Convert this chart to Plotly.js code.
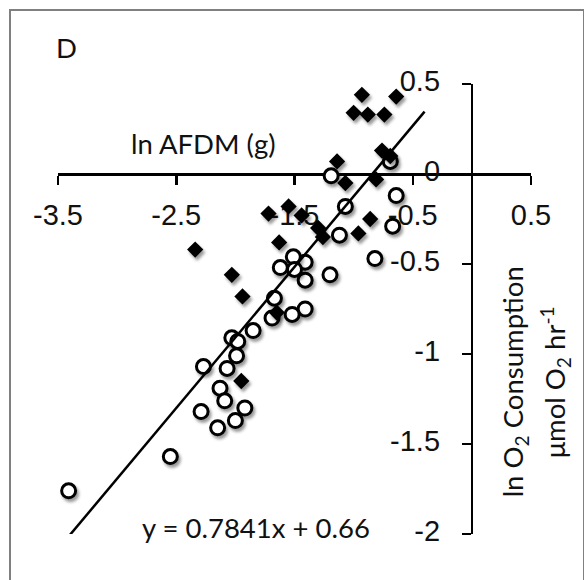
<!DOCTYPE html>
<html><head><meta charset="utf-8">
<script src="https://cdn.plot.ly/plotly-3.0.1.min.js"></script>
<style>
html,body{margin:0;padding:0;background:#fff;overflow:hidden;}
#frame{position:absolute;left:9px;top:9px;width:572px;height:620px;border:2px solid #808080;}
#chart{position:absolute;left:0;top:0;width:584px;height:580px;}
</style></head><body>
<div id="frame"></div>
<div id="chart"></div>
<script>
// Open circles
const circleX = [-0.69, -1.19, -0.64, -1.07, -0.67, -1.12, -0.82, -1.20, -1.41, -1.41, -1.41, -1.51, -1.62, -1.50, -1.67, -1.69, -1.52, -1.85, -2.03, -1.98, -2.27, -2.07, -1.99, -2.13, -2.09, -1.92, -2.29, -2.00, -2.15, -3.41, -2.55];
const circleY = [0.07, -0.01, -0.12, -0.18, -0.29, -0.34, -0.47, -0.56, -0.49, -0.59, -0.75, -0.46, -0.52, -0.53, -0.69, -0.80, -0.78, -0.87, -0.91, -0.93, -1.07, -1.08, -1.01, -1.19, -1.26, -1.30, -1.32, -1.37, -1.41, -1.76, -1.57];
// Filled diamonds
const diamondX = [-0.93, -0.64, -1.00, -0.88, -0.74, -0.76, -0.69, -1.14, -1.07, -0.81, -0.86, -0.96, -1.30, -1.26, -1.72, -1.55, -1.44, -1.63, -2.34, -2.03, -1.94, -1.95, -1.65];
const diamondY = [0.44, 0.43, 0.34, 0.33, 0.33, 0.13, 0.10, 0.07, -0.05, -0.03, -0.25, -0.33, -0.30, -0.35, -0.22, -0.18, -0.23, -0.38, -0.42, -0.56, -0.68, -1.15, -0.77];
// Trendline (equation shown on the chart) and its forward extension
const slope = 0.7841;
const intercept = 0.66;
const trendForward = 0.24;
// Ticks
const xTickVals = [-3.5, -2.5, -1.5, -0.5, 0.5];
const xTickText = ["-3.5", "-2.5", "-1.5", "-0.5", "0.5"];
const yTickVals = [0.5, 0, -0.5, -1, -1.5, -2];
const yTickText = ["0.5", "0", "-0.5", "-1", "-1.5", "-2"];

const allX = circleX.concat(diamondX);
const xMin = Math.min(...allX), xMax = Math.max(...allX) + trendForward;
const lineX = [xMin, xMax];
const lineY = lineX.map(v => slope * v + intercept);

const traces = [
  {x: circleX, y: circleY, type: 'scatter', mode: 'markers', cliponaxis: false,
   marker: {symbol: 'circle', size: 14, color: '#ffffff', line: {color: '#000000', width: 3}}},
  {x: diamondX, y: diamondY, type: 'scatter', mode: 'markers', cliponaxis: false,
   marker: {symbol: 'diamond', size: 12.5, color: '#000000', line: {width: 0}}},
  {x: lineX, y: lineY, type: 'scatter', mode: 'lines', cliponaxis: true,
   line: {color: '#000000', width: 2.5}}
];

const calib = {family: 'Lato, "Open Sans", sans-serif', size: 27.5, color: '#111'};
const tickFont = {family: '"Liberation Sans", Arial, sans-serif', size: 29, color: '#111'};

const layout = {
  width: 584, height: 580,
  margin: {l: 58, r: 53, t: 84, b: 46, pad: 0},
  paper_bgcolor: 'rgba(0,0,0,0)', plot_bgcolor: 'rgba(0,0,0,0)',
  showlegend: false,
  xaxis: {range: [-3.5, 0.5], anchor: 'free', position: 0.8, side: 'bottom',
    showgrid: false, zeroline: false, showline: true, linecolor: '#000', linewidth: 2.5,
    ticks: 'outside', ticklen: 9, tickwidth: 2.5, tickcolor: '#000',
    tickvals: xTickVals, ticktext: xTickText, tickfont: tickFont,
    ticklabelstandoff: 6, layer: 'below traces', fixedrange: true},
  yaxis: {range: [-2, 0.5], anchor: 'free', position: 0.875, side: 'left',
    showgrid: false, zeroline: false, showline: true, linecolor: '#000', linewidth: 2.5,
    ticks: 'outside', ticklen: 9, tickwidth: 2.5, tickcolor: '#000',
    tickvals: yTickVals, ticktext: yTickText, tickfont: tickFont,
    ticklabelstandoff: 16, ticklabelshift: -3, layer: 'below traces', fixedrange: true},
  annotations: [
    {text: 'D', xref: 'paper', yref: 'paper', x: 0.017, y: 1.081, showarrow: false,
     xanchor: 'center', yanchor: 'middle', font: calib},
    {text: 'ln AFDM (g)', xref: 'paper', yref: 'paper', x: 0.3066, y: 0.868, showarrow: false,
     xanchor: 'center', yanchor: 'middle', font: calib},
    {text: 'y = 0.7841x + 0.66', xref: 'paper', yref: 'paper', x: 0.4186, y: 0.0144, showarrow: false,
     xanchor: 'center', yanchor: 'middle', font: calib},
    {text: 'ln O<sub>2</sub> Consumption', xref: 'paper', yref: 'paper', x: 0.966, y: 0.339, showarrow: false,
     xanchor: 'center', yanchor: 'middle', textangle: -90, font: calib},
    {text: 'μmol O<sub>2</sub> hr<sup>-1</sup>', xref: 'paper', yref: 'paper', x: 1.0507, y: 0.337, showarrow: false,
     xanchor: 'center', yanchor: 'middle', textangle: -90, font: calib}
  ]
};

Plotly.newPlot('chart', traces, layout, {displayModeBar: false, staticPlot: true}).then(gd => {
  const NS = 'http://www.w3.org/2000/svg';
  const svg = gd.querySelector('svg.main-svg');
  let defs = svg.querySelector('defs');
  if (!defs) { defs = document.createElementNS(NS, 'defs'); svg.insertBefore(defs, svg.firstChild); }
  const f = document.createElementNS(NS, 'filter');
  f.setAttribute('id', 'mkshadow');
  f.setAttribute('x', '-60%'); f.setAttribute('y', '-60%');
  f.setAttribute('width', '220%'); f.setAttribute('height', '220%');
  const ds = document.createElementNS(NS, 'feDropShadow');
  ds.setAttribute('dx', '2'); ds.setAttribute('dy', '3');
  ds.setAttribute('stdDeviation', '1.6');
  ds.setAttribute('flood-color', '#000'); ds.setAttribute('flood-opacity', '0.4');
  f.appendChild(ds); defs.appendChild(f);
  const tr = gd.querySelectorAll('.scatterlayer .trace');
  [0, 1].forEach(i => {
    if (!tr[i]) return;
    tr[i].querySelectorAll('.points path').forEach(p => p.setAttribute('filter', 'url(#mkshadow)'));
  });
});
</script>
</body></html>
